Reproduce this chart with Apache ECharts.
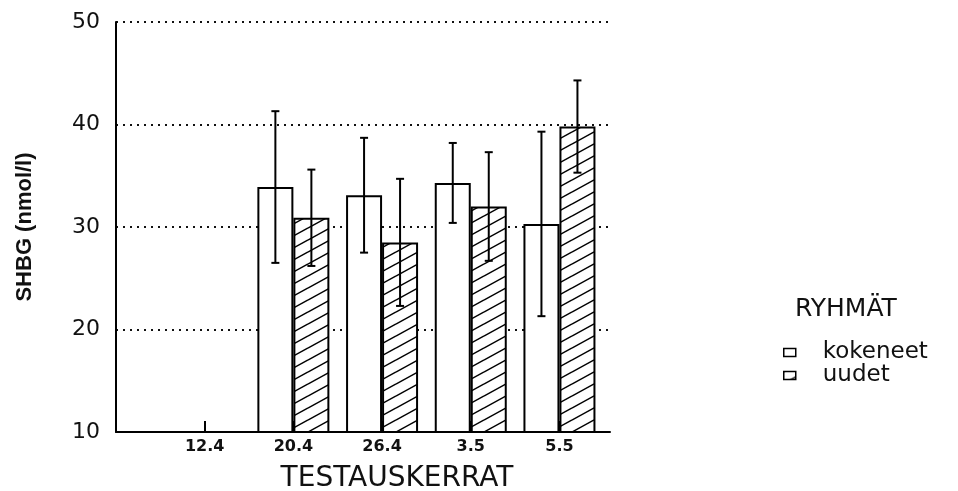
<!DOCTYPE html>
<html>
<head>
<meta charset="utf-8">
<script src="https://cdn.jsdelivr.net/npm/echarts@6/dist/echarts.min.js"></script>
<style>
html, body { margin: 0; padding: 0; background: #fff; }
#main { width: 958px; height: 491px; }
</style>
</head>
<body>
<div id="main"></div>
<script>
// testauskerrat (x-akselin luokat)
const categories = ["12.4", "20.4", "26.4", "3.5", "5.5"];
// SHBG keskiarvot ja hajonnat
const kokeneet = [null, 33.9, 33.1, 34.3, 30.3];
const kokeneetErr = [null, 7.4, 5.6, 3.9, 9.0];
const uudet = [null, 30.9, 28.5, 32.0, 39.8];
const uudetErr = [null, 4.7, 6.2, 5.3, 4.5];
const positions = [1, 2, 3, 4, 5];

const BAR_W = 36;

// vinoviivoitus uudet-sarjalle
function makeHatch() {
    const c = document.createElement("canvas");
    c.width = 22;
    c.height = 12;
    const ctx = c.getContext("2d");
    ctx.fillStyle = "#fff";
    ctx.fillRect(0, 0, 22, 12);
    ctx.strokeStyle = "#000";
    ctx.lineWidth = 1.5;
    for (let k = -1; k <= 1; k++) {
        ctx.beginPath();
        ctx.moveTo(0, 12 + 12 * k);
        ctx.lineTo(22, 0 + 12 * k);
        ctx.stroke();
    }
    return c;
}
const hatch = { image: makeHatch(), repeat: "repeat" };

function barData(vals) {
    return vals.map((v, i) => [positions[i], v]);
}
function errData(vals, errs, side) {
    const out = [];
    vals.forEach((v, i) => {
        if (v == null) return;
        out.push([positions[i], v - errs[i], v + errs[i], side]);
    });
    return out;
}

function renderErr(params, api) {
    const x = api.value(0);
    const lo = api.coord([x, api.value(1)]);
    const hi = api.coord([x, api.value(2)]);
    const cx = lo[0] + api.value(3) * BAR_W / 2;
    const style = { stroke: "#000", lineWidth: 2 };
    return {
        type: "group",
        children: [
            { type: "line", shape: { x1: cx, y1: lo[1], x2: cx, y2: hi[1] }, style: style },
            { type: "line", shape: { x1: cx - 4, y1: lo[1], x2: cx + 4, y2: lo[1] }, style: style },
            { type: "line", shape: { x1: cx - 4, y1: hi[1], x2: cx + 4, y2: hi[1] }, style: style },
        ],
    };
}

const myChart = echarts.init(document.getElementById("main"));
const option = {
    backgroundColor: "#fff",
    animation: false,
    title: {
        text: "RYHMÄT",
        left: 790,
        top: 292,
        textStyle: { fontFamily: "DejaVu Sans", fontSize: 25, fontWeight: "normal", color: "#111" },
    },
    legend: {
        orient: "vertical",
        left: 778,
        top: 336,
        itemWidth: 12,
        itemHeight: 8,
        itemGap: 0,
        textStyle: { fontFamily: "DejaVu Sans", fontSize: 23, lineHeight: 21, color: "#111", padding: [0, 0, 0, 22] },
        data: [
            { name: "kokeneet", icon: "rect", itemStyle: { color: "#fff", borderColor: "#000", borderWidth: 1.5 } },
            { name: "uudet", icon: "rect", itemStyle: { color: hatch, borderColor: "#000", borderWidth: 1.5 } },
        ],
    },
    grid: {
        left: 116,
        right: 348,
        top: 22,
        bottom: 59,
        containLabel: false,
        outerBoundsMode: "none",
    },
    xAxis: {
        type: "value",
        min: 0,
        max: 5.57,
        interval: 1,
        name: "TESTAUSKERRAT",
        nameLocation: "middle",
        nameGap: 33,
        nameTextStyle: { fontFamily: "DejaVu Sans", fontSize: 28, color: "#111", padding: [0, 0, 0, 68] },
        splitLine: { show: false },
        axisLine: { show: true, lineStyle: { color: "#000", width: 2 } },
        axisTick: { show: true, inside: true, length: 11, customValues: positions, lineStyle: { color: "#000", width: 2 } },
        axisLabel: {
            customValues: positions,
            margin: 7,
            fontFamily: "DejaVu Sans",
            fontWeight: "bold",
            fontSize: 16,
            color: "#111",
            formatter: (v) => categories[Math.round(v) - 1] || "",
        },
    },
    yAxis: {
        type: "value",
        min: 10,
        max: 50,
        interval: 10,
        name: "SHBG (nmol/l)",
        nameLocation: "middle",
        nameGap: 80,
        nameTextStyle: { fontFamily: "Liberation Sans", fontWeight: "bold", fontSize: 22, color: "#111" },
        axisLine: { show: true, lineStyle: { color: "#000", width: 2 } },
        axisTick: { show: false },
        axisLabel: { fontFamily: "DejaVu Sans", fontSize: 22, color: "#111", margin: 16 },
        splitLine: { show: true, lineStyle: { color: "#111", width: 2, type: [2, 5] } },
    },
    series: [
        {
            name: "kokeneet",
            type: "bar",
            barWidth: BAR_W,
            barGap: "0%",
            itemStyle: { color: "#fff", borderColor: "#000", borderWidth: 2 },
            data: barData(kokeneet),
        },
        {
            name: "uudet",
            type: "bar",
            barWidth: BAR_W,
            barGap: "0%",
            itemStyle: { color: hatch, borderColor: "#000", borderWidth: 2 },
            data: barData(uudet),
        },
        {
            name: "kokeneet-virhe",
            type: "custom",
            renderItem: renderErr,
            encode: { x: 0, y: [1, 2] },
            z: 5,
            data: errData(kokeneet, kokeneetErr, -1),
        },
        {
            name: "uudet-virhe",
            type: "custom",
            renderItem: renderErr,
            encode: { x: 0, y: [1, 2] },
            z: 5,
            data: errData(uudet, uudetErr, 1),
        },
    ],
};
myChart.setOption(option);
</script>
</body>
</html>
